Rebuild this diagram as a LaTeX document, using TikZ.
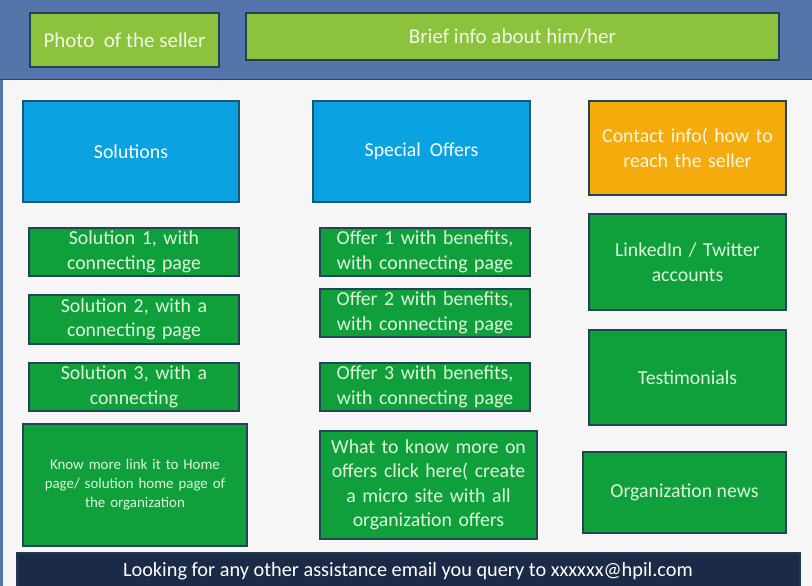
\documentclass[tikz,border=0pt]{standalone}
\usepackage{fontspec}
\setmainfont{Carlito}
\definecolor{bandblue}{HTML}{5475AA}
\definecolor{banddark}{HTML}{2C4468}
\definecolor{lime}{HTML}{8CC23C}
\definecolor{skyb}{HTML}{0BA2E2}
\definecolor{orng}{HTML}{F5AB0B}
\definecolor{grn}{HTML}{0FA03C}
\definecolor{edge}{HTML}{234457}
\definecolor{navy}{HTML}{1B2A47}
\definecolor{pagebg}{HTML}{F6F6F6}
\definecolor{txtg}{HTML}{DDF6DA}
\definecolor{txtl}{HTML}{F2F8E6}
\tikzset{
  base/.style={draw=edge, line width=1.6pt, inner sep=0pt, anchor=center, align=center, font=\fontsize{19.8}{24.5}\selectfont},
  limebox/.style={base, fill=lime, text=txtl},
  bluebox/.style={base, fill=skyb, text=white, draw=edge!80!skyb},
  orangebox/.style={base, fill=orng, text=txtl},
  greenbox/.style={base, fill=grn, text=txtg},
}
\begin{document}
\begin{tikzpicture}[x=1pt,y=-1pt]
\useasboundingbox (0,0) rectangle (812,586);
\fill[pagebg] (0,0) rectangle (812,586);
\fill[bandblue] (0,0) rectangle (812,80);
\draw[banddark, line width=1.5pt] (0,79.5) -- (812,79.5);
\fill[bandblue] (0,80) rectangle (3,586);
\node[limebox, minimum width=189pt, minimum height=54pt, font=\fontsize{21}{24}\selectfont] (photo) at (124.5,40) {Photo\ \ of the seller};
\node[limebox, minimum width=533pt, minimum height=47pt, font=\fontsize{21}{24}\selectfont] (brief) at (512.5,36.5) {Brief info about him/her};
\node[bluebox, minimum width=216pt, minimum height=101pt] (sol) at (131,151.5) {Solutions};
\node[bluebox, minimum width=217pt, minimum height=101pt] (spec) at (421.5,151.5) {Special\ \ Offers};
\node[orangebox, minimum width=197pt, minimum height=94pt, text width=195pt] (contact) at (687.5,148) {Contact info( how to\\reach the seller};
\node[greenbox, minimum width=210pt, minimum height=48pt, text width=205pt] (s1) at (134,252) {Solution 1, with\\connecting page};
\node[greenbox, minimum width=210pt, minimum height=49pt, text width=205pt] (s2) at (134,319.5) {Solution 2, with a\\connecting page};
\node[greenbox, minimum width=210pt, minimum height=48pt, text width=205pt] (s3) at (134,387) {Solution 3, with a\\connecting};
\node[greenbox, minimum width=224pt, minimum height=122pt, text width=220pt, font=\fontsize{14.9}{19}\selectfont] (know) at (135,485) {Know more link it to Home\\page/ solution home page of\\the organization};
\node[greenbox, minimum width=210pt, minimum height=48pt, text width=208pt] (o1) at (425,252) {Offer 1 with benefits,\\with connecting page};
\node[greenbox, minimum width=210pt, minimum height=48pt, text width=208pt] (o2) at (425,313) {Offer 2 with benefits,\\with connecting page};
\node[greenbox, minimum width=210pt, minimum height=48pt, text width=208pt] (o3) at (425,387) {Offer 3 with benefits,\\with connecting page};
\node[greenbox, minimum width=217pt, minimum height=108pt, text width=214pt] (what) at (428.5,485) {What to know more on\\offers click here( create\\a micro site with all\\organization offers};
\node[greenbox, minimum width=197pt, minimum height=96pt, text width=195pt] (linked) at (687.5,262) {LinkedIn / Twitter\\accounts};
\node[greenbox, minimum width=197pt, minimum height=95pt] (test) at (687.5,377.5) {Testimonials};
\node[greenbox, minimum width=203pt, minimum height=81pt] (org) at (684.5,492.5) {Organization news};
\fill[navy] (17,553) rectangle (800,590);
\draw[edge!60!navy, line width=1.2pt] (17,590) -- (17,553) -- (800,553) -- (800,590);
\node[text=white, font=\fontsize{20.3}{22}\selectfont, inner sep=0pt] (foot) at (408,571) {Looking for any other assistance email you query to xxxxxx@hpil.com};
\end{tikzpicture}
\end{document}
